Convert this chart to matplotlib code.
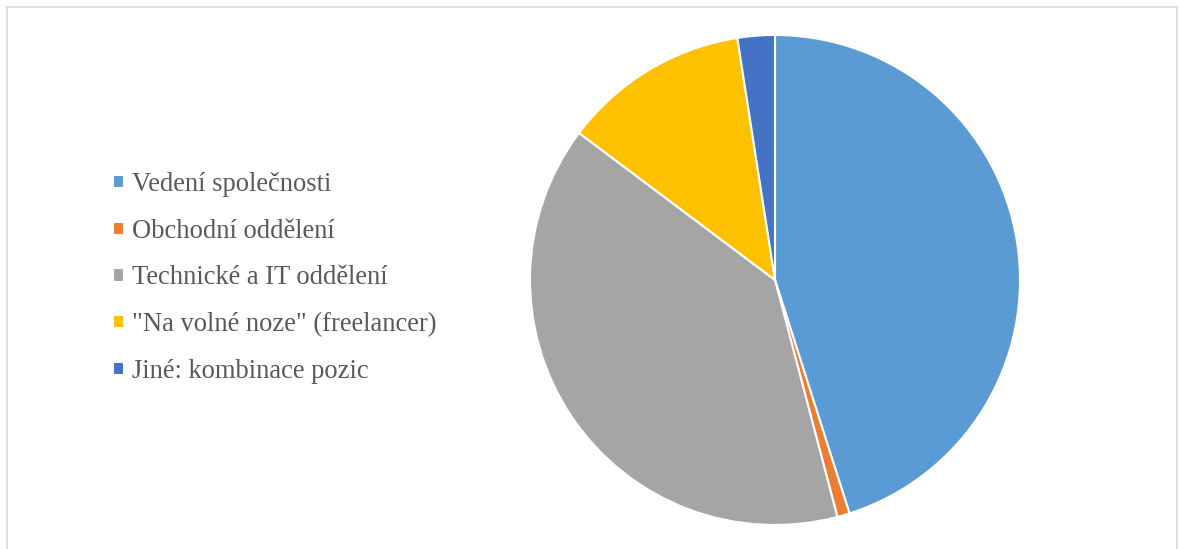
import matplotlib.pyplot as plt
from matplotlib.lines import Line2D

# Data
categories = ['Vedení společnosti', 'Obchodní oddělení', 'Technické a IT oddělení',
              '"Na volné noze" (freelancer)', 'Jiné: kombinace pozic']
counts = [55, 1, 48, 15, 3]
colors = ['#5B9BD5', '#ED7D31', '#A5A5A5', '#FFC000', '#4472C4']

W, H = 1179, 549
fig = plt.figure(figsize=(W / 100, H / 100), dpi=100, facecolor='white')

# pie axes: centre (775, 280), radius 245 px
cx, cy, r = 775, 280, 245
ax = fig.add_axes([(cx - r) / W, (H - cy - r) / H, 2 * r / W, 2 * r / H])
wedges, _ = ax.pie(counts, colors=colors, startangle=90, counterclock=False,
                   radius=1, wedgeprops=dict(edgecolor='white', linewidth=1.5, clip_on=False))
ax.set_xlim(-1, 1)
ax.set_ylim(-1, 1)
ax.set_aspect('equal')
ax.axis('off')

# legend
leg = fig.legend(wedges, categories, loc='center left',
                 bbox_to_anchor=(113 / W, (H - 278) / H), frameon=False,
                 prop={'family': 'Liberation Serif', 'size': 19.1},
                 handlelength=0.4, handleheight=0.4, handletextpad=0.3,
                 labelspacing=0.82, borderaxespad=0, borderpad=0)
for t in leg.get_texts():
    t.set_color('#595959')

# chart border (left, top, right)
bc = '#D9D9D9'
fig.add_artist(Line2D([6.5 / W, 6.5 / W], [0, 1 - 6.5 / H], color=bc, lw=1.2))
fig.add_artist(Line2D([6.5 / W, 1177 / W], [1 - 6.5 / H, 1 - 6.5 / H], color=bc, lw=1.2))
fig.add_artist(Line2D([1177 / W, 1177 / W], [0, 1 - 6.5 / H], color=bc, lw=1.2))

fig.savefig('out.png', dpi=100, facecolor='white')
